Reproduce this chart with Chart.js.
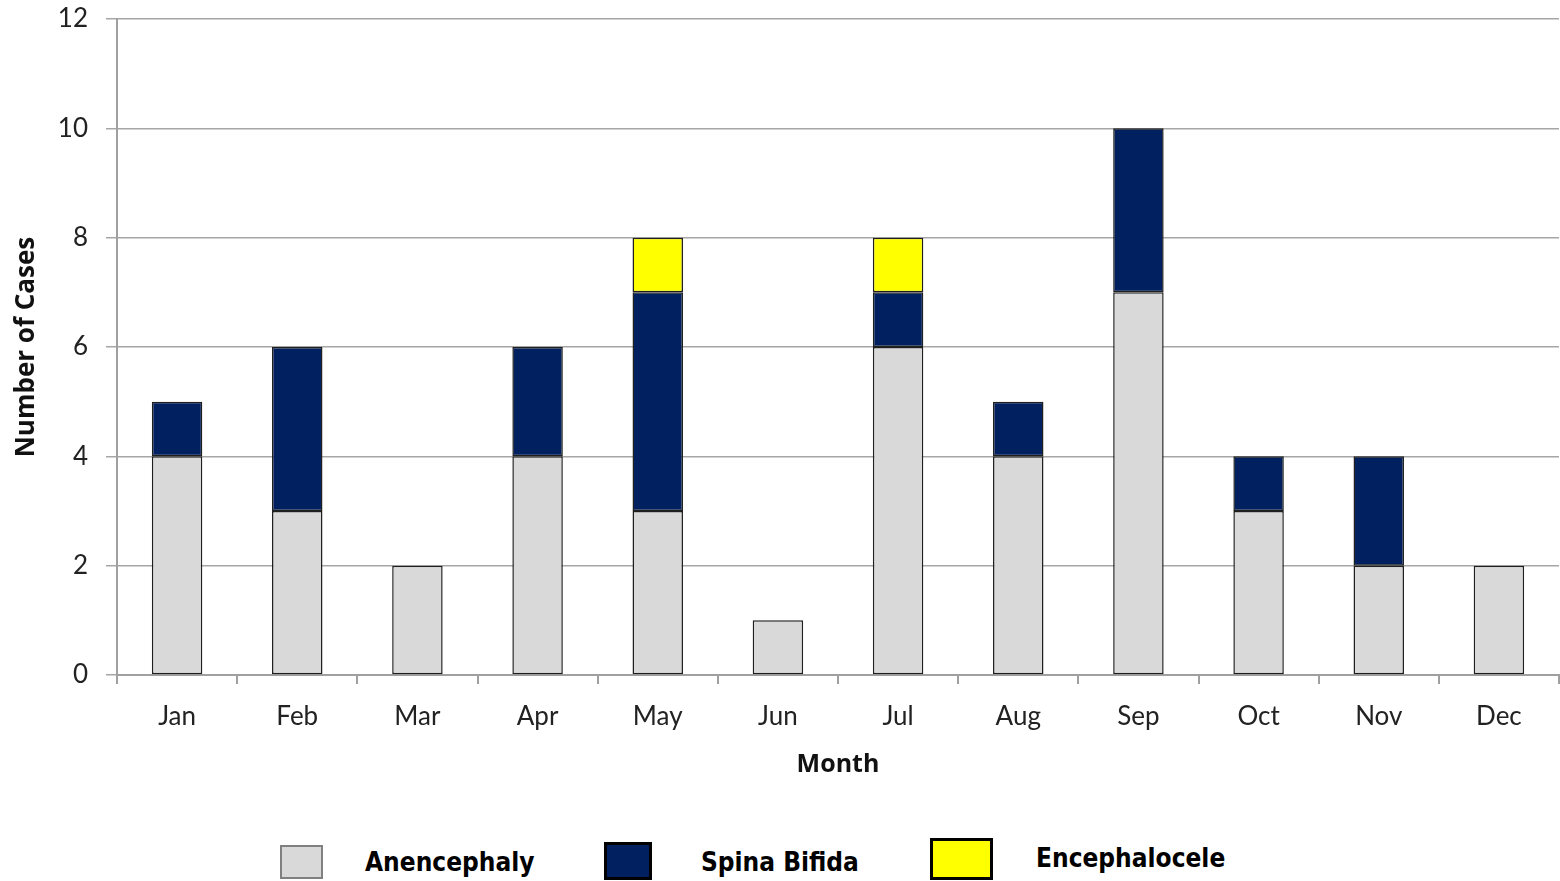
<!DOCTYPE html>
<html>
<head>
<meta charset="utf-8">
<script src="https://cdn.jsdelivr.net/npm/chart.js@4"></script>
<style>
  html, body { margin: 0; padding: 0; background: #fff; }
  #wrap { position: relative; width: 1560px; height: 881px; }
  #chart { position: absolute; left: 0; top: 0; }
  .lg-box { position: absolute; box-sizing: border-box; }
  .lg-text { position: absolute; font-family: "DejaVu Sans", sans-serif; font-stretch: condensed; font-weight: bold; font-size: 26px; color: #000; line-height: 1; white-space: nowrap; }
</style>
</head>
<body>
<div id="wrap">
  <canvas id="chart" width="1560" height="790"></canvas>
  <div id="legend"></div>
</div>
<script>
// =======================
// Data
// =======================
const months = ["Jan", "Feb", "Mar", "Apr", "May", "Jun", "Jul", "Aug", "Sep", "Oct", "Nov", "Dec"];
const anencephaly = [4, 3, 2, 4, 3, 1, 6, 4, 7, 3, 2, 2];
const spinaBifida = [1, 3, 0, 2, 4, 0, 1, 1, 3, 1, 2, 0];
const encephalocele = [0, 0, 0, 0, 1, 0, 1, 0, 0, 0, 0, 0];
const yTicks = [0, 2, 4, 6, 8, 10, 12];

const seriesNames = ["Anencephaly", "Spina Bifida", "Encephalocele"];
const seriesColors = ["#d9d9d9", "#002060", "#ffff00"];

const tickFont = { family: "Lato, 'Open Sans', sans-serif", size: 26 };
const titleFamily = "'Open Sans', sans-serif";

const datasets = [anencephaly, spinaBifida, encephalocele].map((vals, i) => ({
  label: seriesNames[i],
  data: vals,
  backgroundColor: seriesColors[i],
  borderColor: "#1f1f1f",
  borderWidth: 1.5,
  borderSkipped: false,
  barPercentage: 0.84,
  categoryPercentage: 0.5
}));

new Chart(document.getElementById("chart"), {
  type: "bar",
  data: { labels: months, datasets: datasets },
  options: {
    responsive: false,
    animation: false,
    layout: { padding: { top: 19, right: 1, bottom: 0, left: 0 } },
    plugins: { legend: { display: false }, tooltip: { enabled: false } },
    scales: {
      x: {
        stacked: true,
        afterFit: (s) => { s.height = 115; },
        border: { color: "#a0a0a0", width: 2 },
        grid: { offset: true, drawOnChartArea: false, tickLength: 9, color: "#a0a0a0", lineWidth: 2 },
        ticks: { color: "#222", font: tickFont, padding: 17, maxRotation: 0 },
        title: {
          display: true, text: "Month", color: "#111",
          font: { family: titleFamily, size: 25, weight: "bold" },
          padding: { top: 0, bottom: 10 }
        }
      },
      y: {
        stacked: true,
        min: 0,
        max: 12,
        afterFit: (s) => { s.width = 117; s.paddingTop = 0; s.paddingBottom = 0; },
        afterBuildTicks: (s) => { s.ticks = yTicks.map(v => ({ value: v })); },
        border: { color: "#a0a0a0", width: 2 },
        grid: { color: "#a6a6a6", lineWidth: 1.5, tickLength: 11 },
        ticks: { color: "#222", font: tickFont, padding: 18 },
        title: {
          display: true, text: "Number of Cases", color: "#111",
          font: { family: titleFamily, size: 26, weight: "bold" },
          padding: { top: 11, bottom: 0 }
        }
      }
    }
  }
});

// =======================
// Legend (HTML, below chart)
// =======================
const legendBoxes = [
  { x: 280, y: 845, w: 43, h: 34, border: "2px solid #808080", tx: 365, ty: 849 },
  { x: 604, y: 842, w: 48, h: 38, border: "3px solid #000", tx: 701, ty: 849 },
  { x: 930, y: 838, w: 63, h: 42, border: "3px solid #000", tx: 1036, ty: 845 }
];
const legend = document.getElementById("legend");
legendBoxes.forEach((b, i) => {
  const box = document.createElement("div");
  box.className = "lg-box";
  Object.assign(box.style, {
    left: b.x + "px", top: b.y + "px", width: b.w + "px", height: b.h + "px",
    background: seriesColors[i], border: b.border
  });
  legend.appendChild(box);
  const txt = document.createElement("div");
  txt.className = "lg-text";
  txt.style.left = b.tx + "px";
  txt.style.top = b.ty + "px";
  txt.textContent = seriesNames[i];
  legend.appendChild(txt);
});
</script>
</body>
</html>
